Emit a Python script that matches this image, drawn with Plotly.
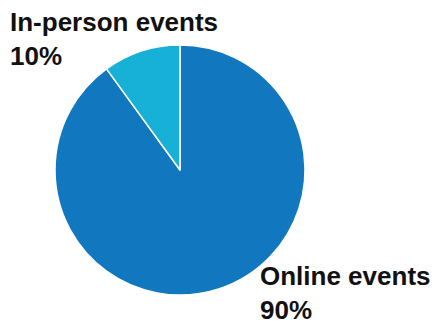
import plotly.graph_objects as go

labels = ["Online events", "In-person events"]
values = [90, 10]
colors = ["#1177bf", "#17b0d6"]

W, H = 445, 326
cx, cy, r = 180, 170, 125

fig = go.Figure(go.Pie(
    labels=labels, values=values, sort=False, direction="clockwise",
    rotation=0, marker=dict(colors=colors, line=dict(color="white", width=1.5)),
    textinfo="none", hoverinfo="label+percent", showlegend=False,
    domain=dict(x=[(cx - r) / W, (cx + r) / W], y=[1 - (cy + r) / H, 1 - (cy - r) / H]),
))

font = dict(family="Liberation Sans, Arial, sans-serif", size=26, color="#111111")
fig.add_annotation(x=9 / W, y=1 - 6 / H, xref="paper", yref="paper", xanchor="left", yanchor="top",
                   align="left", showarrow=False, font=font, borderpad=0,
                   text=f"<b>{labels[1]}<br>{values[1]}%</b>")
fig.add_annotation(x=259 / W, y=0, xref="paper", yref="paper", xanchor="left", yanchor="bottom",
                   align="left", showarrow=False, font=font, borderpad=0,
                   text=f"<b>{labels[0]}<br>{values[0]}%</b>")

fig.update_layout(width=W, height=H, margin=dict(l=0, r=0, t=0, b=0),
                  paper_bgcolor="white", plot_bgcolor="white")
fig.write_html("out.html")
